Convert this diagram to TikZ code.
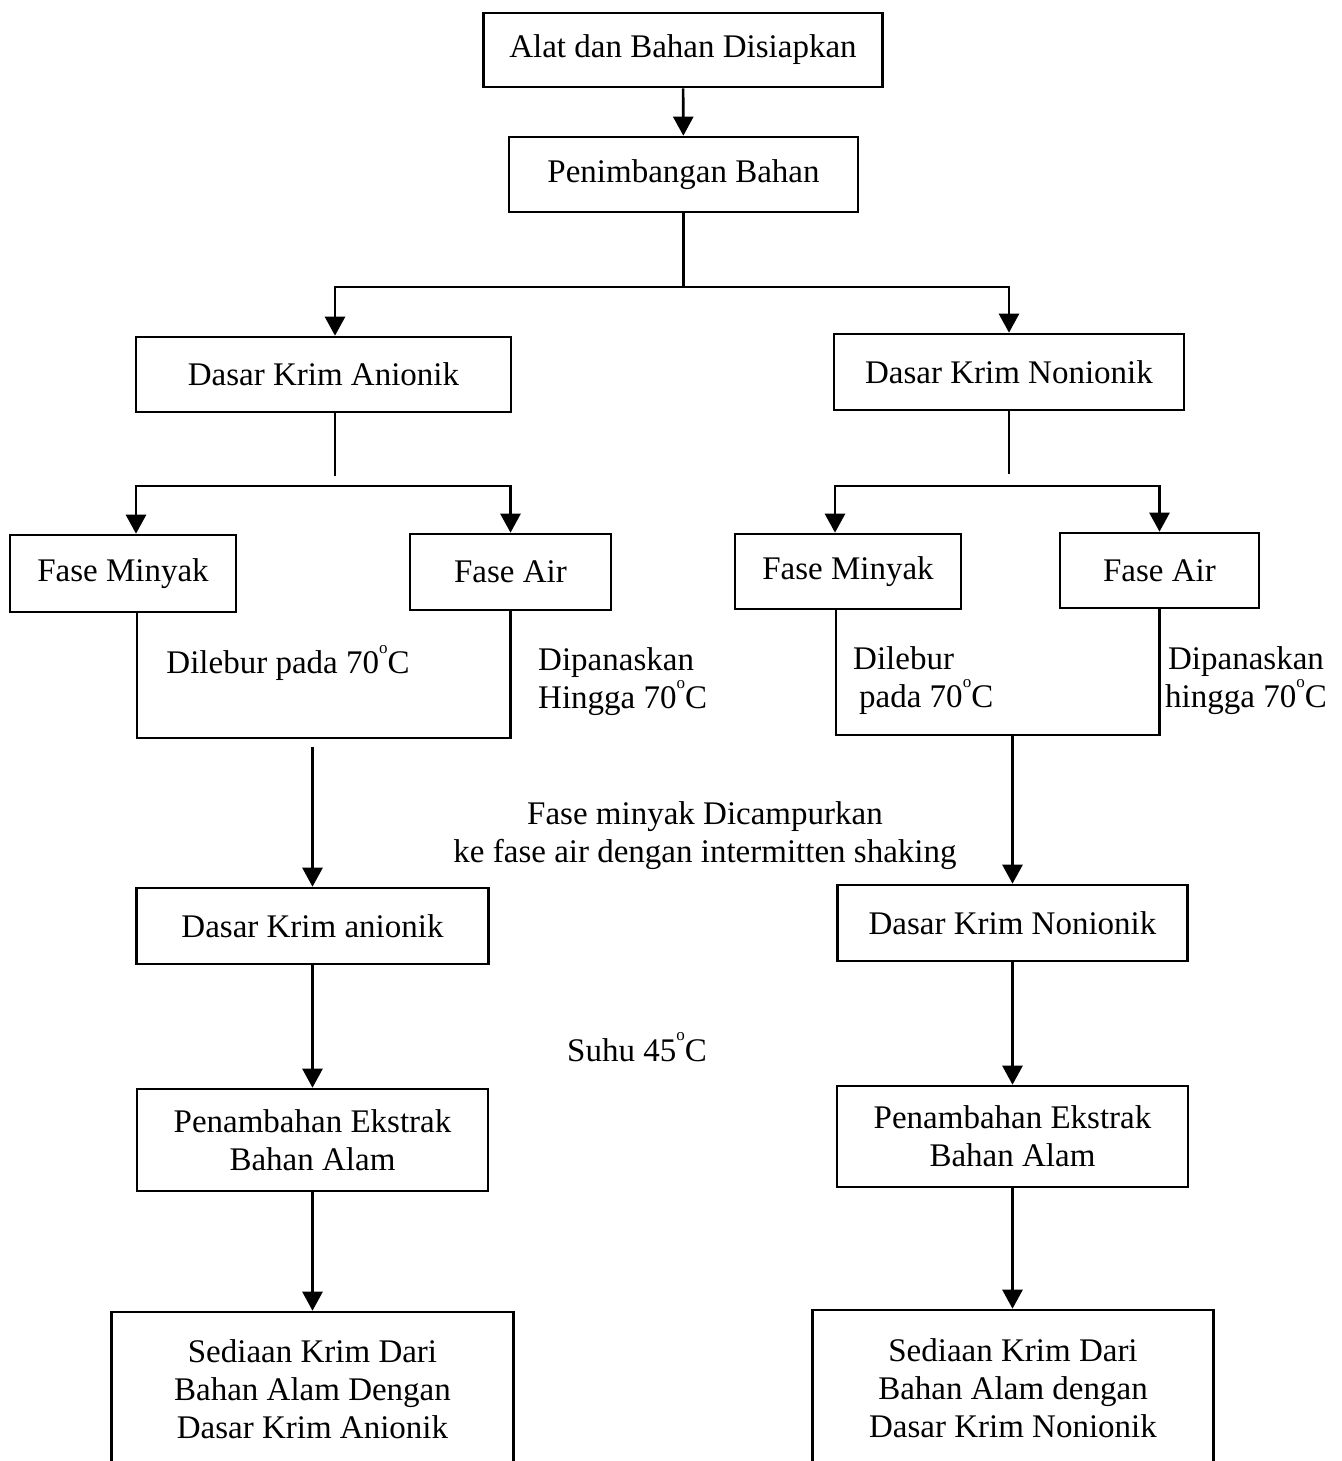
\documentclass[tikz,border=0pt]{standalone}
\usepackage{fontspec}
\setmainfont{Liberation Serif}
\usetikzlibrary{arrows.meta,calc}
\tikzset{
  >={Triangle[length=19pt,width=20pt]},
  kotak/.style={rectangle, draw=black, line width=2.6pt, inner sep=0pt, align=center,
                minimum height=75pt},
  catatan/.style={inner sep=0pt, align=left},
  garis/.style={draw, line width=2.6pt}
}
\newcommand{\derajat}{\raisebox{0.62em}{\fontsize{17}{17}\selectfont o}C}

\begin{document}
\begin{tikzpicture}[x=1pt,y=-1pt,font=\fontsize{33}{38}\selectfont]
    \path[use as bounding box,clip] (0,0) rectangle (1341,1461);
    % Draw boxes
    \node (alat) at (683,50) [kotak, minimum width=399pt, minimum height=74pt] {Alat dan Bahan Disiapkan};
    \node (timbang) at (683.5,174.5) [kotak, minimum width=349pt] {Penimbangan Bahan};
    \node (anion) at (323.5,374.5) [kotak, minimum width=375pt] {Dasar Krim Anionik};
    \node (nonion) at (1009,372) [kotak, minimum width=350pt, minimum height=76pt] {Dasar Krim Nonionik};
    \node (minyakA) at (123,573.5) [kotak, minimum width=226pt, minimum height=77pt] {Fase Minyak};
    \node (airA) at (510.5,572) [kotak, minimum width=201pt, minimum height=76pt] {Fase Air};
    \node (minyakN) at (848,571.5) [kotak, minimum width=226pt] {Fase Minyak};
    \node (airN) at (1159.5,570.5) [kotak, minimum width=199pt] {Fase Air};
    \node (anionB) at (312.5,926) [kotak, minimum width=352pt, minimum height=76pt] {Dasar Krim anionik};
    \node (nonionB) at (1012.5,923) [kotak, minimum width=350pt, minimum height=76pt] {Dasar Krim Nonionik};
    \node (ekstrakA) at (312.5,1140) [kotak, minimum width=351pt, minimum height=102pt] {Penambahan Ekstrak\\Bahan Alam};
    \node (ekstrakN) at (1012.5,1136.5) [kotak, minimum width=351pt, minimum height=101pt] {Penambahan Ekstrak\\Bahan Alam};
    \node (sediaanA) at (312.5,1389) [kotak, minimum width=402pt, minimum height=154pt] {Sediaan Krim Dari\\Bahan Alam Dengan\\Dasar Krim Anionik};
    \node (sediaanN) at (1013,1388) [kotak, minimum width=401pt, minimum height=156pt] {Sediaan Krim Dari\\Bahan Alam dengan\\Dasar Krim Nonionik};

    % Draw notes
    \node (leburAtxt) at (288,663) [catatan] {Dilebur pada 70\derajat};
    \node (panasAtxt) at (538,682) [catatan, anchor=west] {Dipanaskan\\Hingga 70\derajat};
    \node (leburNtxt) at (853,681) [catatan, anchor=west] {Dilebur\\\hspace*{6pt}pada 70\derajat};
    \node (panasNtxt) at (1246,681) [catatan, align=center] {Dipanaskan\\hingga 70\derajat};
    \node (campur) at (705,836) [catatan, align=center] {Fase minyak Dicampurkan\\ke fase air dengan intermitten shaking};
    \node (suhu) at (637,1047) [catatan] {Suhu 45\derajat};

    % Draw connectors
    \coordinate (bagi) at (683.5,287);
    \coordinate (keA) at (335,287);
    \draw[garis,->] (alat) -- (timbang);
    \draw[garis] (timbang) -- (bagi);
    \draw[garis,->] (bagi) -- (keA) -- (keA |- anion.north);
    \draw[garis,->] (bagi) -| (nonion);

    \coordinate (ujungA) at (335,476);
    \coordinate (cabangA) at (136,486);
    \draw[garis] (keA |- anion.south) -- (ujungA);
    \draw[garis,<->] (minyakA.north -| cabangA) -- (cabangA) -| (airA);

    \coordinate (ujungN) at (1009,474);
    \coordinate (cabangN) at (835,486);
    \draw[garis] (nonion) -- (ujungN);
    \draw[garis,<->] (minyakN.north -| cabangN) -- (cabangN) -| (airN);

    \coordinate (leburA) at (137,738);
    \coordinate (leburN) at (836,735);
    \draw[garis] (minyakA.south -| leburA) -- (leburA) -| (airA);
    \draw[garis] (minyakN.south -| leburN) -- (leburN) -| (airN);

    \coordinate (campurA) at (312.5,747);
    \coordinate (campurN) at (1012.5,735);
    \draw[garis,->] (campurA) -- (anionB);
    \draw[garis,->] (campurN) -- (nonionB);
    \draw[garis,->] (anionB) -- (ekstrakA);
    \draw[garis,->] (ekstrakA) -- (sediaanA);
    \draw[garis,->] (nonionB) -- (ekstrakN);
    \draw[garis,->] (ekstrakN) -- (ekstrakN.south |- sediaanN.north);
\end{tikzpicture}
\end{document}
